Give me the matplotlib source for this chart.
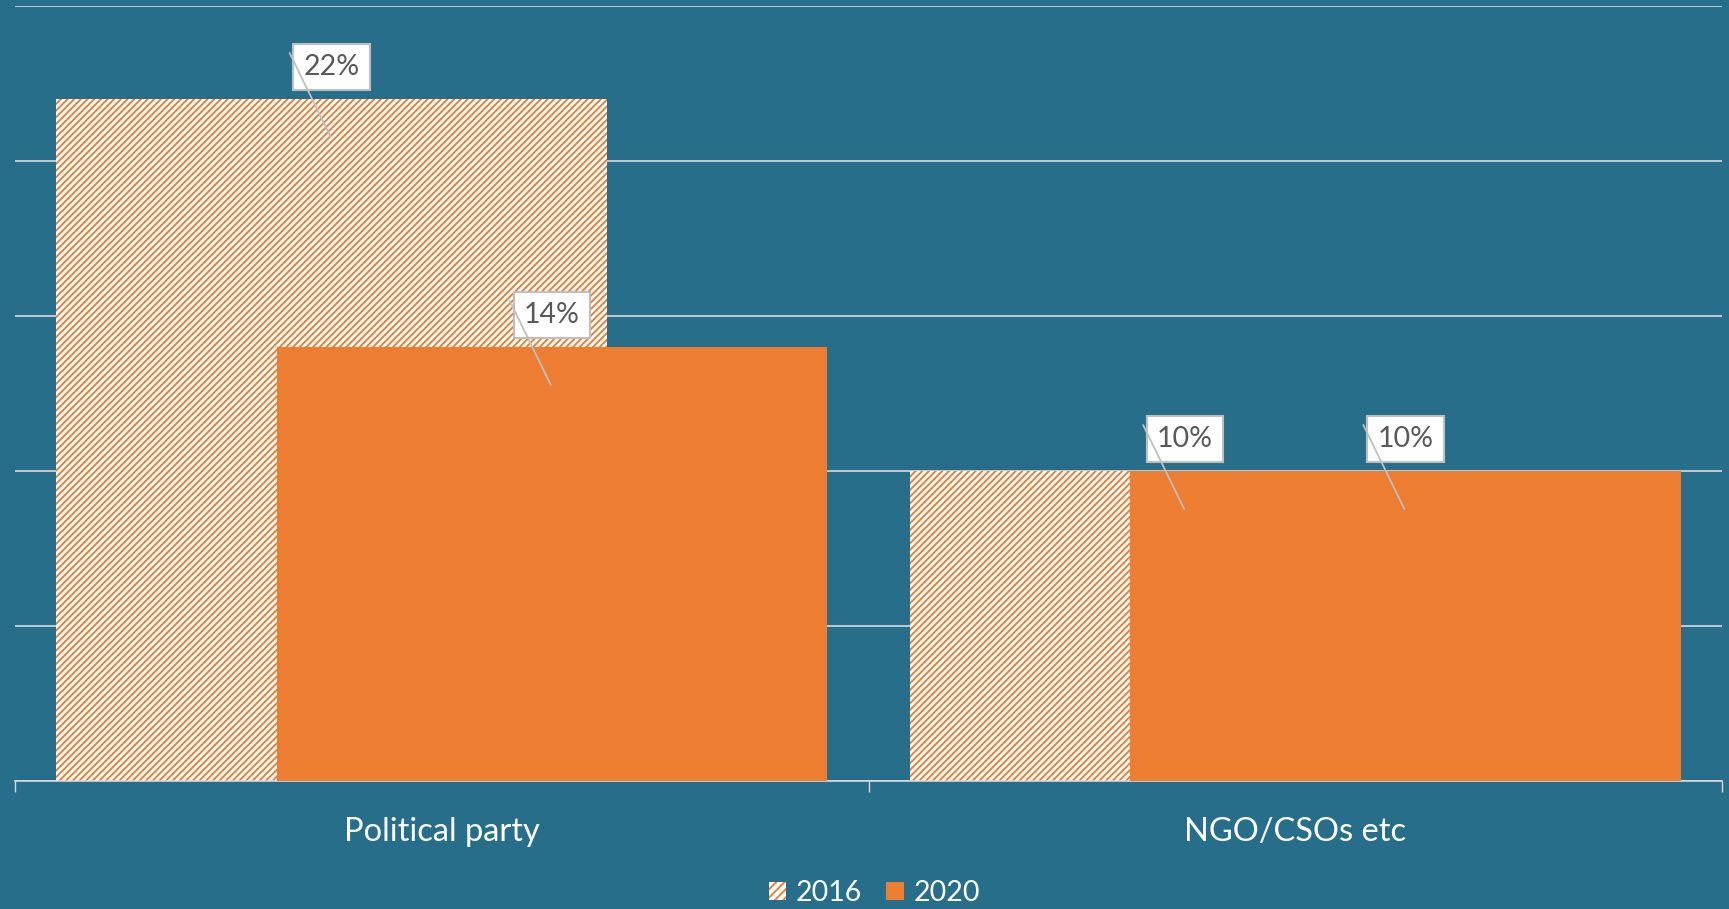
import matplotlib
matplotlib.use("Agg")
import matplotlib.pyplot as plt
from matplotlib.transforms import offset_copy
from matplotlib.patches import Patch
import numpy as np

categories = ["Political party", "NGO/CSOs etc"]
series_names = ["2016", "2020"]
values_2016 = [22, 10]
values_2020 = [14, 10]
labels_2016 = ["22%", "10%"]
labels_2020 = ["14%", "10%"]

BG = "#276E8B"
ORANGE = "#ED7D31"
GRID = "#D9D9D9"
TXT = "#595959"

plt.rcParams["font.family"] = ["Lato", "DejaVu Sans"]
plt.rcParams["hatch.linewidth"] = 1.4

fig = plt.figure(figsize=(17.29, 9.09), dpi=100, facecolor=BG)
ax = fig.add_axes([15/1729, 1-781/909, (1722-15)/1729, (781-6)/909])
ax.set_facecolor(BG)

x = np.arange(len(categories))
width = 0.645
off = 0.129

b16 = ax.bar(x - off, values_2016, width, facecolor="white", edgecolor=ORANGE,
             hatch="/////", linewidth=0, zorder=2)
b20 = ax.bar(x + off, values_2020, width, color=ORANGE, linewidth=0, zorder=3)

ax.set_xlim(-0.5, 1.5)
ax.set_ylim(0, 25)
ax.set_yticks(np.arange(0, 26, 5))
ax.yaxis.grid(True, color=GRID, linewidth=1.2, zorder=0)
ax.set_axisbelow(True)
ax.tick_params(axis="y", left=False, labelleft=False)
for s in ["top", "right", "left"]:
    ax.spines[s].set_visible(False)
ax.spines["bottom"].set_color(GRID)
ax.spines["bottom"].set_linewidth(1.2)

ax.set_xticks([-0.5, 0.5, 1.5])
ax.set_xticklabels([])
ax.tick_params(axis="x", direction="out", length=8, color=GRID, width=1)
ax.set_xticks(x, minor=True)
ax.set_xticklabels(categories, minor=True, fontsize=23.5, color="white")
ax.tick_params(axis="x", which="minor", length=0, pad=26)

def add_label(xc, v, txt):
    tr = offset_copy(ax.transData, fig, x=0, y=32, units="dots")
    ax.text(xc, v, txt, transform=tr, ha="center", va="center", fontsize=20.5,
            color=TXT, zorder=5,
            bbox=dict(boxstyle="square,pad=0.36", facecolor="white",
                      edgecolor="#BFBFBF", linewidth=1.5))
    ax.annotate("", xy=(xc, v), xycoords=offset_copy(ax.transData, fig, x=-1, y=-38, units="dots"),
                xytext=(xc, v), textcoords=offset_copy(ax.transData, fig, x=-42, y=46, units="dots"),
                arrowprops=dict(arrowstyle="-", color="#BFBFBF", lw=1.3,
                                shrinkA=0, shrinkB=0), zorder=6)

for xi, v, t in zip(x - off, values_2016, labels_2016):
    add_label(xi, v, t)
for xi, v, t in zip(x + off, values_2020, labels_2020):
    add_label(xi, v, t)

handles = [Patch(facecolor="white", edgecolor=ORANGE, hatch="////", linewidth=0),
           Patch(facecolor=ORANGE, linewidth=0)]
fig.legend(handles, series_names, loc="center", bbox_to_anchor=(874.5/1729, 1-893/909),
           ncol=2, frameon=False, fontsize=20.5, labelcolor="white",
           handlelength=0.6, handleheight=0.6, handletextpad=0.35, columnspacing=0.85)

fig.savefig("out.png", dpi=100, facecolor=BG)
